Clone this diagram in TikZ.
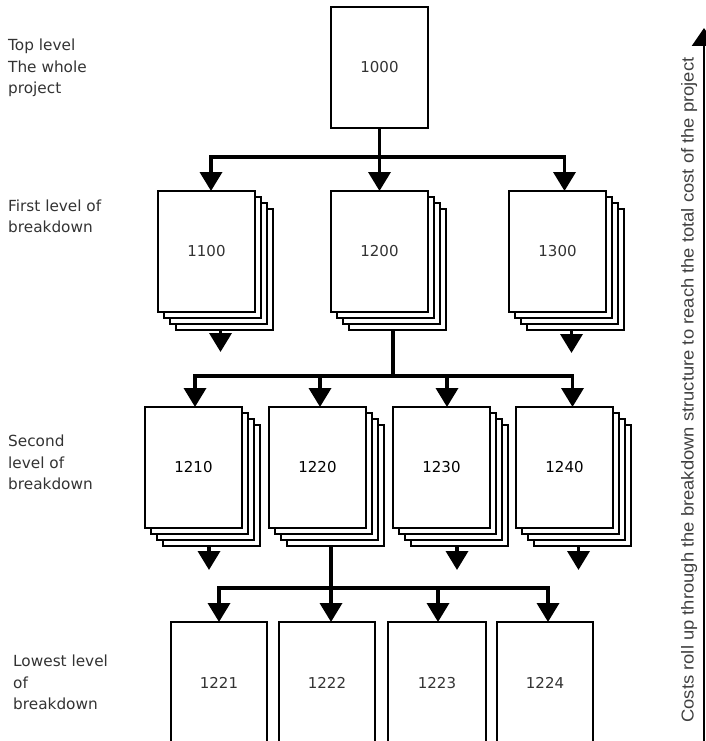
\documentclass[tikz,border=0pt]{standalone}
\usepackage{fontspec}
\setmainfont{DejaVu Sans}
\newfontfamily\rollfont{Liberation Sans}
\usetikzlibrary{arrows.meta,calc}
\tikzset{
 box/.style={draw,line width=1.5pt,fill=white,minimum width=97pt,minimum height=121pt,inner sep=0pt,outer sep=0pt,anchor=north west,font=\fontsize{15}{18}\selectfont,text=black!80},
 sheet/.style={draw,line width=1.5pt,fill=white},
 arr/.style={line width=3.6pt,-{Triangle[width=22pt,length=19pt]}},
 lbl/.style={anchor=west,align=left,inner sep=0pt,font=\fontsize{15.3}{21.5}\selectfont,text=black!80},
}
\newcommand\wbsstack[4]{%
 \foreach \k in {3,2,1}{\draw[sheet] (#2+\k*6,#3+\k*6) rectangle ++(97,121);}
 \node[box] (#1) at (#2,#3) {#4};}
\begin{document}
\begin{tikzpicture}[x=1pt,y=-1pt]
\useasboundingbox (0,0) rectangle (706,741);
\clip (0,0) rectangle (706,741);
% boxes
\node[box] (n1000) at (331,7) {1000};
\wbsstack{n1100}{158}{191}{1100}
\wbsstack{n1200}{331}{191}{1200}
\wbsstack{n1300}{509}{191}{1300}
\wbsstack{n1210}{145}{407}{\color{black}1210}
\wbsstack{n1220}{269}{407}{\color{black}1220}
\wbsstack{n1230}{393}{407}{\color{black}1230}
\wbsstack{n1240}{516}{407}{\color{black}1240}
\node[box,minimum width=96pt,minimum height=122pt] (n1221) at (171,622) {1221};
\node[box,minimum width=96pt,minimum height=122pt] (n1222) at (279,622) {1222};
\node[box,minimum width=98pt,minimum height=122pt] (n1223) at (388,622) {1223};
\node[box,minimum width=96pt,minimum height=122pt] (n1224) at (497,622) {1224};
% level 1 connectors
\coordinate (b1) at (0,157);
\coordinate (a1100) at ($(n1100.north)+(4.5,0)$);
\coordinate (a1300) at ($(n1300.north)+(7,0)$);
\draw[arr] (n1000.south) |- (a1100 |- b1) -- (a1100);
\draw[arr] (n1000.south) |- (a1300 |- b1) -- (a1300);
\draw[arr] (n1000.south) -- (n1200.north);
% arrows below level-1 stacks
\coordinate (d1100) at ($(n1100.south)+(14,40)$);
\coordinate (d1300) at ($(n1300.south)+(14,41)$);
\draw[arr] ($(n1100.south)+(14,18)$) -- (d1100);
\draw[arr] ($(n1300.south)+(14,18)$) -- (d1300);
% level 2 connectors
\coordinate (b2) at (0,376);
\coordinate (s1200) at ($(n1200.south)+(13.5,18)$);
\coordinate (a1210) at ($(n1210.north)+(1.5,0)$);
\coordinate (a1220) at ($(n1220.north)+(2.5,0)$);
\coordinate (a1230) at ($(n1230.north)+(5.5,0)$);
\coordinate (a1240) at ($(n1240.north)+(8,0)$);
\draw[arr] (s1200) |- (a1210 |- b2) -- (a1210);
\draw[arr] (s1200) |- (a1240 |- b2) -- (a1240);
\draw[arr] (a1220 |- b2) -- (a1220);
\draw[arr] (a1230 |- b2) -- (a1230);
% arrows below level-2 stacks
\coordinate (d1210) at ($(n1210.south)+(15.5,42)$);
\coordinate (d1230) at ($(n1230.south)+(15.5,42)$);
\coordinate (d1240) at ($(n1240.south)+(14,42)$);
\draw[arr] ($(n1210.south)+(15.5,18)$) -- (d1210);
\draw[arr] ($(n1230.south)+(15.5,18)$) -- (d1230);
\draw[arr] ($(n1240.south)+(14,18)$) -- (d1240);
% level 3 connectors
\coordinate (b3) at (0,588);
\coordinate (s1220) at ($(n1220.south)+(13.5,18)$);
\coordinate (a1221) at (n1221.north);
\coordinate (a1222) at (s1220 |- n1222.north);
\coordinate (a1223) at ($(n1223.north)+(1,0)$);
\coordinate (a1224) at ($(n1224.north)+(3,0)$);
\draw[arr] (s1220) |- (a1221 |- b3) -- (a1221);
\draw[arr] (s1220) |- (a1224 |- b3) -- (a1224);
\draw[arr] (s1220) -- (a1222);
\draw[arr] (a1223 |- b3) -- (a1223);
% level labels
\node[lbl] (lTop) at (8,68) {Top level\\The whole\\project};
\node[lbl] (lFirst) at (8,216.5) {First level of\\breakdown};
\node[lbl] (lSecond) at (8,462.3) {Second\\level of\\breakdown};
\node[lbl] (lLow) at (13,682.3) {Lowest level\\of\\breakdown};
% roll-up arrow and text
\coordinate (rb) at (704,760);
\coordinate (rt) at (704,28);
\draw[line width=2.5pt,-{Triangle[width=24pt,length=18pt]}] (rb) -- (rt);
\node[rotate=90,anchor=base,inner sep=0pt,text=black!75] (roll) at (693.5,390) {\resizebox{665pt}{12.5pt}{\rollfont Costs roll up through the breakdown structure to reach the total cost of the project}};
\end{tikzpicture}
\end{document}
